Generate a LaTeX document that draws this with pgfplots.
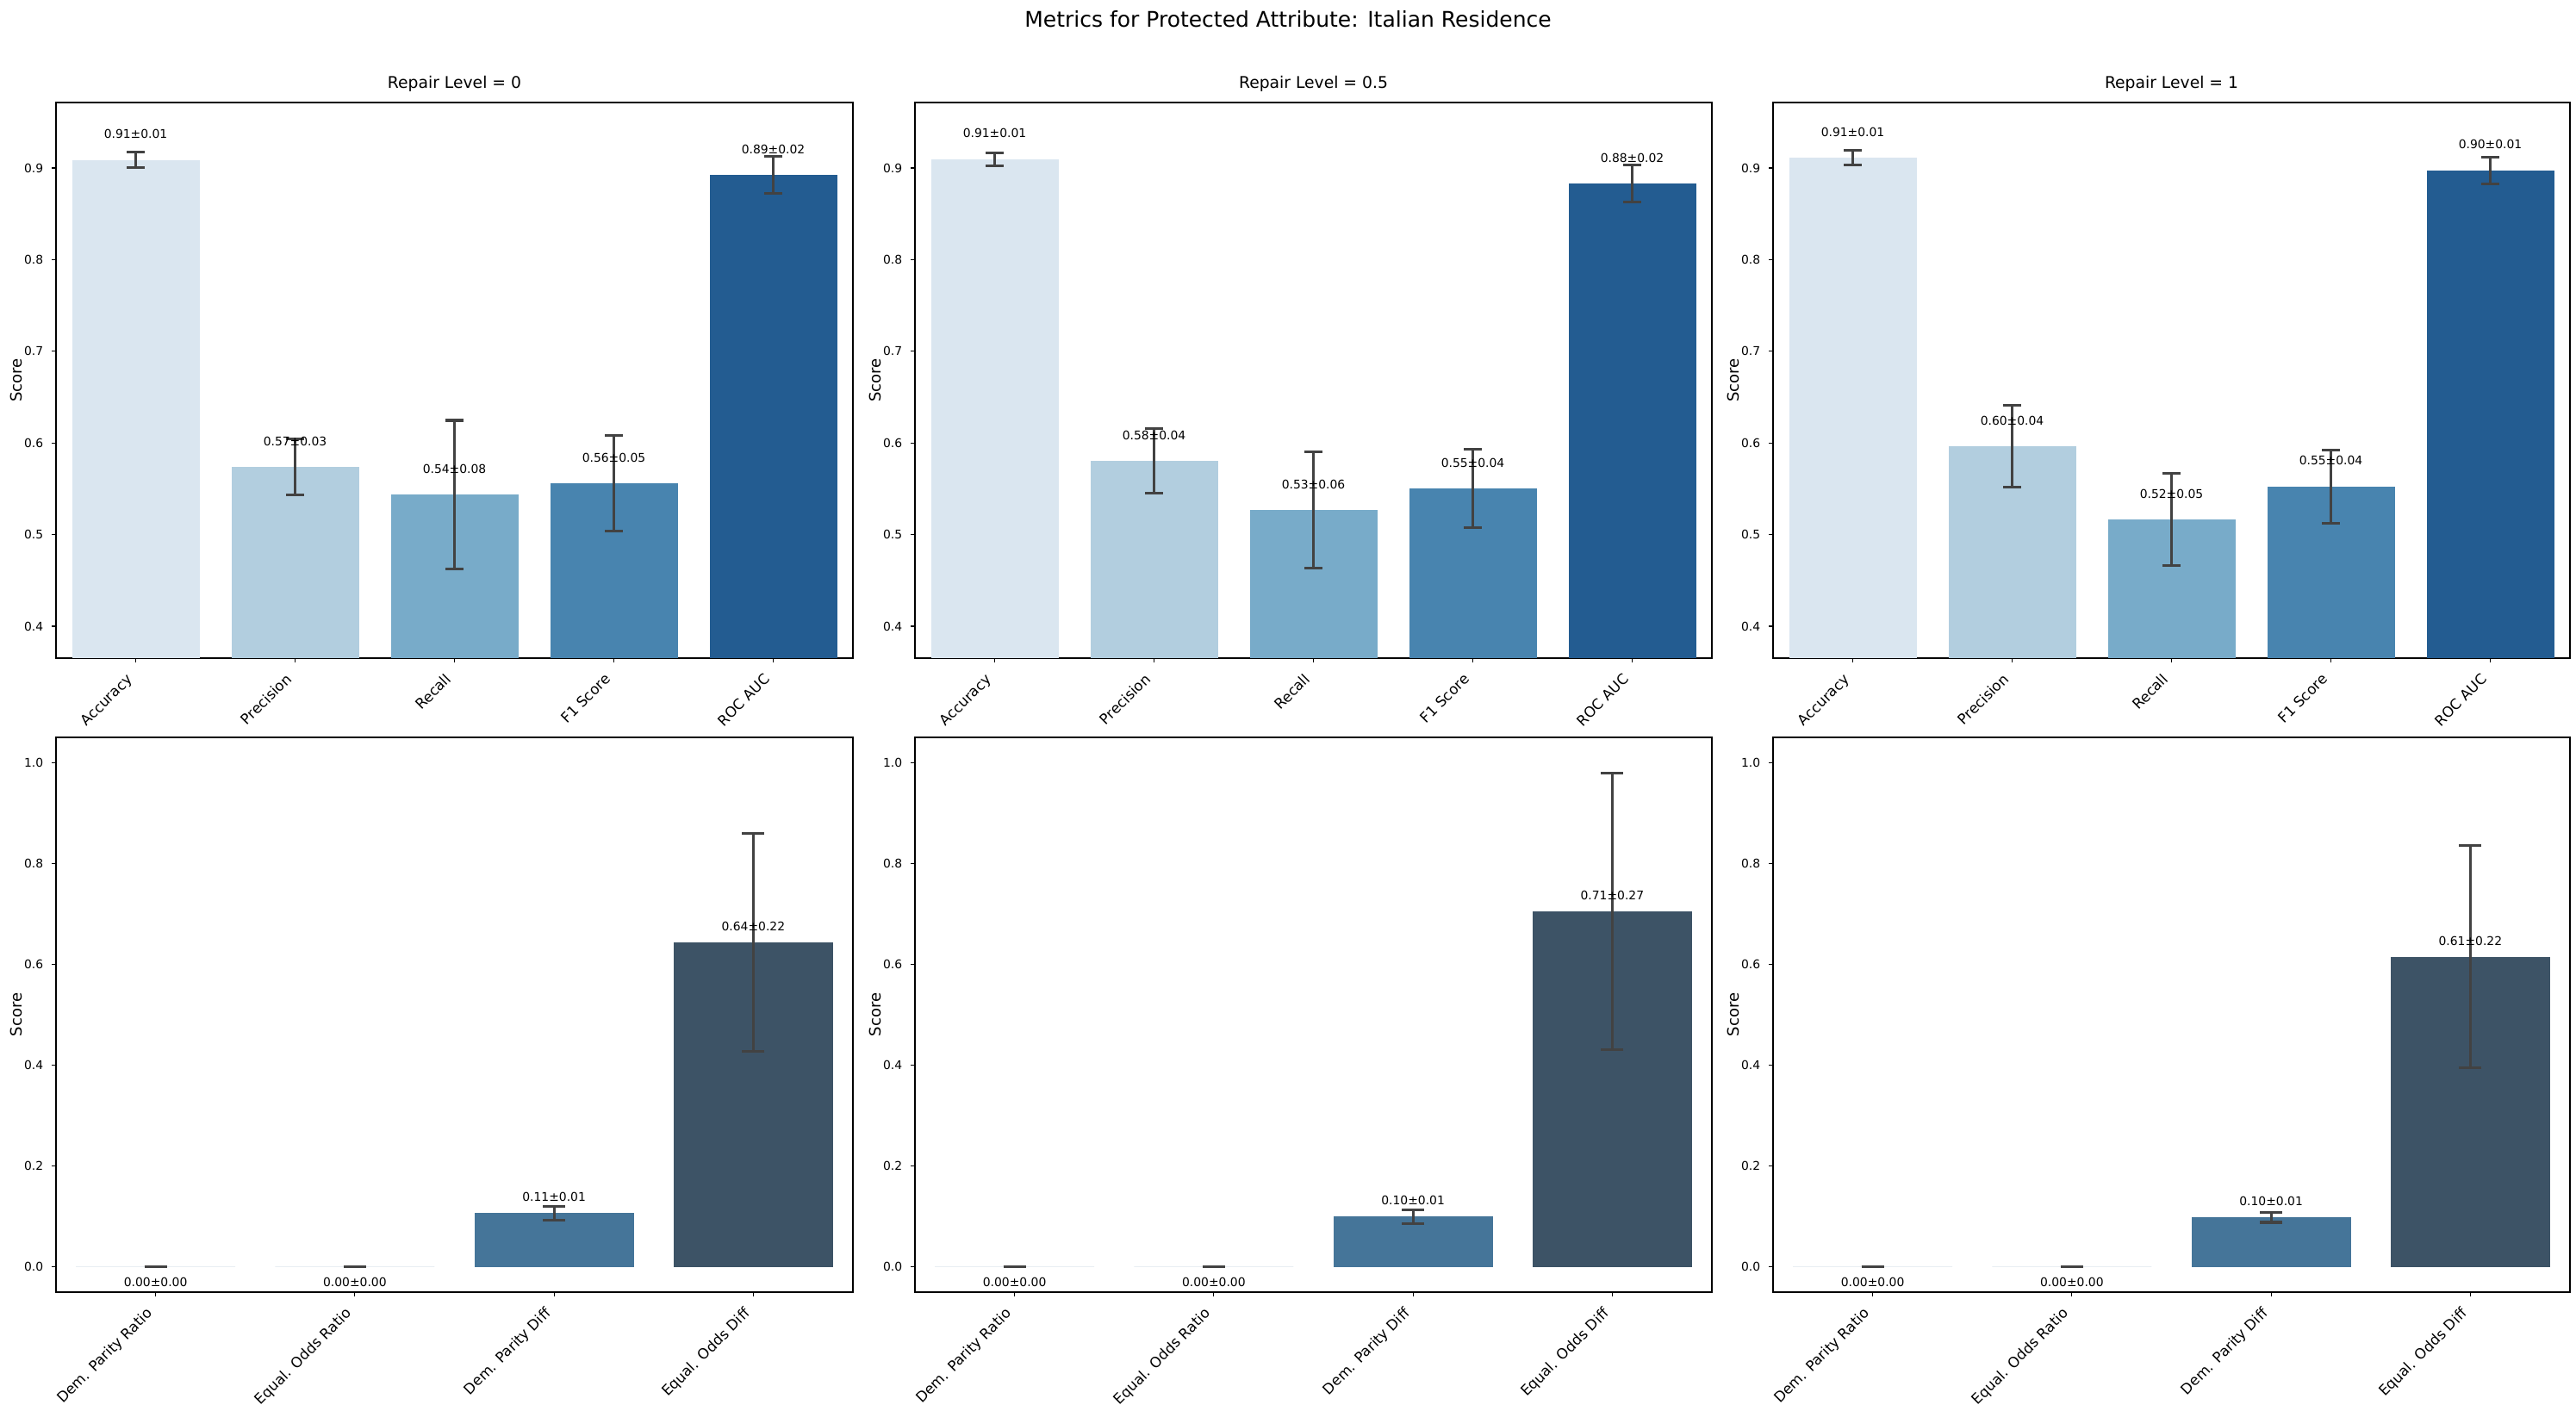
\documentclass[border=0pt]{standalone}
\usepackage{fontspec}
\setmainfont{DejaVu Sans}
\usepackage{pgfplots}
\pgfplotsset{compat=1.18}
\definecolor{c1}{RGB}{218,230,240}
\definecolor{c2}{RGB}{178,206,223}
\definecolor{c3}{RGB}{120,171,201}
\definecolor{c4}{RGB}{72,132,175}
\definecolor{c5}{RGB}{35,92,145}
\definecolor{d3}{RGB}{69,117,153}
\definecolor{d4}{RGB}{61,83,102}
\definecolor{errc}{RGB}{66,66,66}
\newcommand{\lblfont}{\fontsize{10}{12}\selectfont}
\newcommand{\mybar}[5]{\addplot[ybar, bar width=0.8, bar shift=0pt, fill=#1, draw=none,
  error bars/.cd, y dir=both, y explicit,
  error bar style={draw=errc, line width=2.2pt},
  error mark options={draw=errc, line width=2.2pt, mark size=#5, rotate=90}]
  coordinates {(#2,#3) +- (0,#4)};}
\pgfplotsset{
  myax/.style={scale only axis, width=666pt,
    tick align=outside, major tick length=3.5pt,
    every tick/.style={black, line width=0.8pt},
    axis line style={black, line width=0.8pt},
    xtick pos=lower, ytick pos=left,
    /pgf/number format/assume math mode=true,
    yticklabel style={/pgf/number format/fixed, /pgf/number format/fixed zerofill,
      /pgf/number format/precision=1, font=\fontsize{10}{12}\selectfont,
      anchor=east, inner xsep=0pt},
    yticklabel shift=7pt,
    xticklabel shift=7pt,
    xticklabel style={rotate=45, anchor=east, inner xsep=7pt, inner ysep=0pt,
      text height=11.1pt, text depth=2.8pt, font=\fontsize{12}{14}\selectfont},
    ylabel={Score},
    ylabel style={at={(axis description cs:-0.0495,0.5)}, anchor=center,
      font=\fontsize{13}{15}\selectfont},
    title style={at={(axis description cs:0.5,1)}, anchor=base, yshift=6pt,
      font=\fontsize{13.5}{16}\selectfont},
  },
  topax/.style={myax, height=464.4pt, xmin=-0.5, xmax=4.5, ymin=0.3652, ymax=0.9714,
    ytick={0.4,0.5,0.6,0.7,0.8,0.9}, xtick={0,1,2,3,4},
    xticklabels={Accuracy,Precision,Recall,F1 Score,ROC AUC}},
  botax/.style={myax, height=463.68pt, xmin=-0.5, xmax=3.5, ymin=-0.05, ymax=1.05,
    ytick={0,0.2,0.4,0.6,0.8,1.0}, xtick={0,1,2,3},
    xticklabels={Dem. Parity Ratio,Equal. Odds Ratio,Dem. Parity Diff,Equal. Odds Diff}},
}
\begin{document}
\begin{tikzpicture}
\path[use as bounding box] (0,0) rectangle (2152.8pt,-1178.64pt);
\node[font=\fontsize{18}{21}\selectfont, anchor=base] at (1076.4pt,-23pt) {Metrics for Protected Attribute: Italian Residence};

% ---------- top row ----------
\begin{axis}[topax, at={(46.8pt,-550.08pt)}, anchor=south west, title={Repair Level = 0}]
\mybar{c1}{0}{0.9088}{0.0082}{7.5pt}
\mybar{c2}{1}{0.5738}{0.0305}{7.5pt}
\mybar{c3}{2}{0.5436}{0.0810}{7.5pt}
\mybar{c4}{3}{0.5562}{0.0523}{7.5pt}
\mybar{c5}{4}{0.8924}{0.0203}{7.5pt}
\node[font=\lblfont] at (axis cs:0,0.9368) {0.91±0.01};
\node[font=\lblfont] at (axis cs:1,0.6018) {0.57±0.03};
\node[font=\lblfont] at (axis cs:2,0.5716) {0.54±0.08};
\node[font=\lblfont] at (axis cs:3,0.5842) {0.56±0.05};
\node[font=\lblfont] at (axis cs:4,0.9204) {0.89±0.02};
\end{axis}

\begin{axis}[topax, at={(764.64pt,-550.08pt)}, anchor=south west, title={Repair Level = 0.5}]
\mybar{c1}{0}{0.9097}{0.0070}{7.5pt}
\mybar{c2}{1}{0.5805}{0.0355}{7.5pt}
\mybar{c3}{2}{0.5268}{0.0638}{7.5pt}
\mybar{c4}{3}{0.5503}{0.0431}{7.5pt}
\mybar{c5}{4}{0.8832}{0.0202}{7.5pt}
\node[font=\lblfont] at (axis cs:0,0.9377) {0.91±0.01};
\node[font=\lblfont] at (axis cs:1,0.6085) {0.58±0.04};
\node[font=\lblfont] at (axis cs:2,0.5548) {0.53±0.06};
\node[font=\lblfont] at (axis cs:3,0.5783) {0.55±0.04};
\node[font=\lblfont] at (axis cs:4,0.9112) {0.88±0.02};
\end{axis}

\begin{axis}[topax, at={(1481.76pt,-550.08pt)}, anchor=south west, title={Repair Level = 1}]
\mybar{c1}{0}{0.9113}{0.0078}{7.5pt}
\mybar{c2}{1}{0.5965}{0.0445}{7.5pt}
\mybar{c3}{2}{0.5163}{0.0504}{7.5pt}
\mybar{c4}{3}{0.5525}{0.0399}{7.5pt}
\mybar{c5}{4}{0.8975}{0.0145}{7.5pt}
\node[font=\lblfont] at (axis cs:0,0.9393) {0.91±0.01};
\node[font=\lblfont] at (axis cs:1,0.6245) {0.60±0.04};
\node[font=\lblfont] at (axis cs:2,0.5443) {0.52±0.05};
\node[font=\lblfont] at (axis cs:3,0.5805) {0.55±0.04};
\node[font=\lblfont] at (axis cs:4,0.9255) {0.90±0.01};
\end{axis}

% ---------- bottom row ----------
\begin{axis}[botax, at={(46.8pt,-1080pt)}, anchor=south west]
\mybar{d3}{0}{0}{0}{9.4pt}
\mybar{d3}{1}{0}{0}{9.4pt}
\mybar{d3}{2}{0.1067}{0.0139}{9.4pt}
\mybar{d4}{3}{0.6436}{0.2164}{9.4pt}
\node[font=\lblfont] at (axis cs:0,-0.031) {0.00±0.00};
\node[font=\lblfont] at (axis cs:1,-0.031) {0.00±0.00};
\node[font=\lblfont] at (axis cs:2,0.1387) {0.11±0.01};
\node[font=\lblfont] at (axis cs:3,0.6756) {0.64±0.22};
\end{axis}

\begin{axis}[botax, at={(764.64pt,-1080pt)}, anchor=south west]
\mybar{d3}{0}{0}{0}{9.4pt}
\mybar{d3}{1}{0}{0}{9.4pt}
\mybar{d3}{2}{0.0997}{0.0134}{9.4pt}
\mybar{d4}{3}{0.7051}{0.2745}{9.4pt}
\node[font=\lblfont] at (axis cs:0,-0.031) {0.00±0.00};
\node[font=\lblfont] at (axis cs:1,-0.031) {0.00±0.00};
\node[font=\lblfont] at (axis cs:2,0.1317) {0.10±0.01};
\node[font=\lblfont] at (axis cs:3,0.7371) {0.71±0.27};
\end{axis}

\begin{axis}[botax, at={(1481.76pt,-1080pt)}, anchor=south west]
\mybar{d3}{0}{0}{0}{9.4pt}
\mybar{d3}{1}{0}{0}{9.4pt}
\mybar{d3}{2}{0.0980}{0.0096}{9.4pt}
\mybar{d4}{3}{0.6149}{0.2203}{9.4pt}
\node[font=\lblfont] at (axis cs:0,-0.031) {0.00±0.00};
\node[font=\lblfont] at (axis cs:1,-0.031) {0.00±0.00};
\node[font=\lblfont] at (axis cs:2,0.1300) {0.10±0.01};
\node[font=\lblfont] at (axis cs:3,0.6469) {0.61±0.22};
\end{axis}
\end{tikzpicture}
\end{document}
